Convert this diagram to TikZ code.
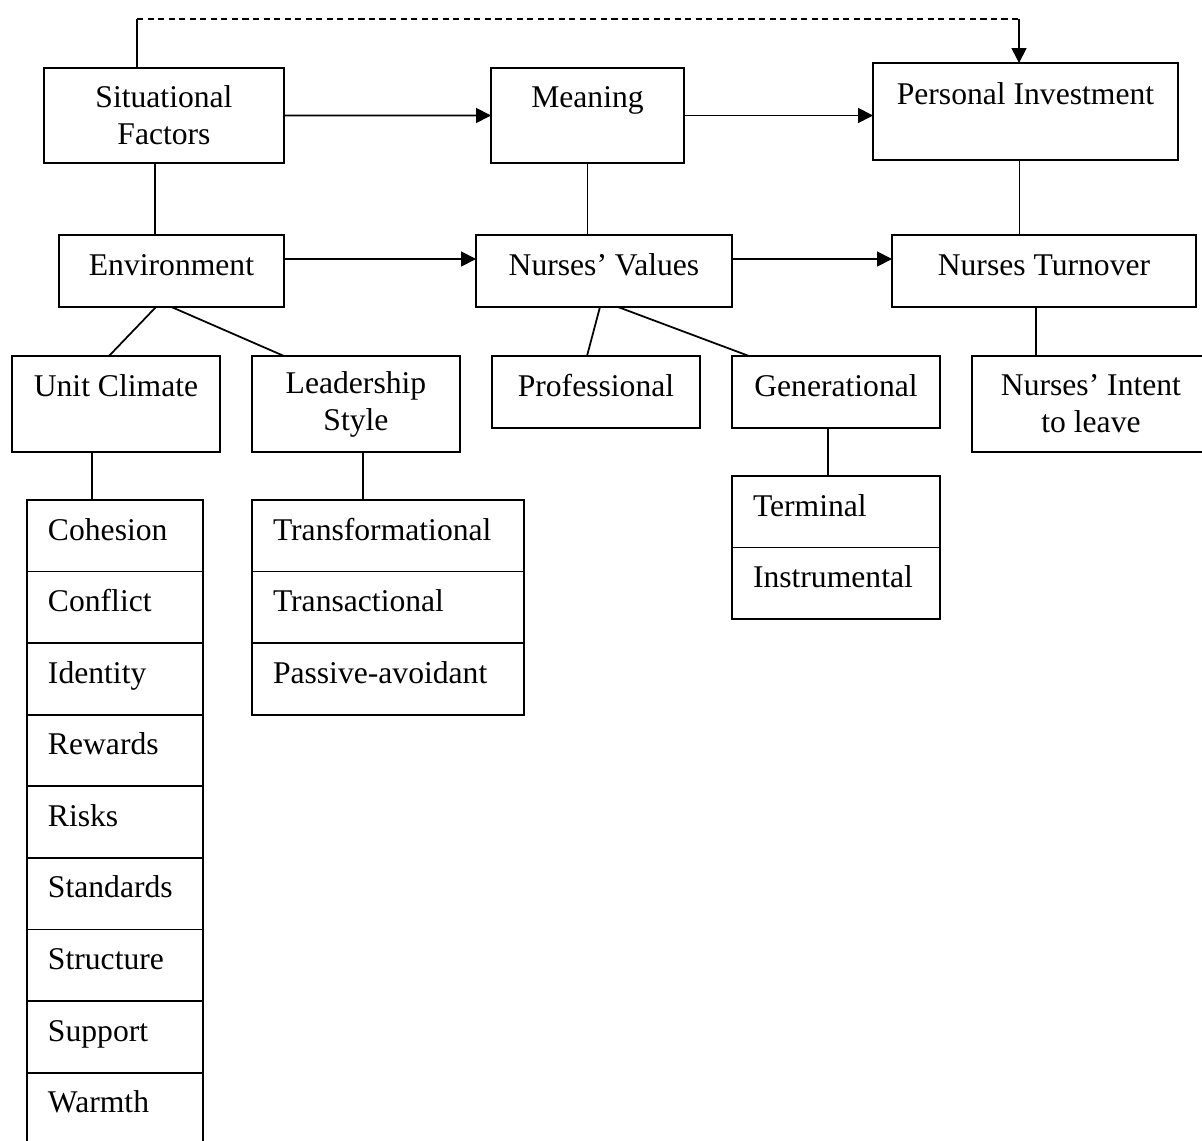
\documentclass[tikz,border=0pt]{standalone}
\usepackage{fontspec}
\setmainfont{Liberation Serif}
\usepackage{tikz}
\usetikzlibrary{arrows.meta,positioning}

\begin{document}
\begin{tikzpicture}[
    x=0.02cm, y=-0.02cm,
    every node/.style={font=\fontsize{18}{21}\selectfont},
    box/.style={draw, line width=1pt, outer sep=0pt, inner sep=0pt, anchor=north west},
    onebox/.style={box, text height=0.8cm, text depth=#1},
    twobox/.style={box, align=center, minimum height=#1},
    item/.style={draw, line width=1pt, outer sep=0pt, inner xsep=0.42cm, inner ysep=0pt, align=left, text width=#1, text height=0.8cm, text depth=0.632cm},
    link/.style={line width=1pt},
    fb/.style={link, dash pattern=on 3.5pt off 2.5pt},
    arr/.style={line width=1pt, -{Triangle[length=8.5pt,width=8.5pt]}}
  ]
  \useasboundingbox (0,0) rectangle (1202,1140);
  \clip (0,0) rectangle (1202,1140);

  % Row 1
  \node[twobox=1.9cm, minimum width=4.8cm] (sit) at (44,68) {Situational\\Factors};
  \node[onebox=1.1cm, minimum width=3.86cm] (mean) at (491,68) {Meaning};
  \node[onebox=1.1cm, text height=0.84cm, minimum width=6.1cm] (pers) at (873,63) {Personal Investment};

  % Row 2
  \node[onebox=0.64cm, minimum width=4.5cm] (env) at (59,235) {Environment};
  \node[onebox=0.64cm, minimum width=5.12cm] (val) at (476,235) {Nurses’ Values};
  \node[onebox=0.64cm, minimum width=6.08cm] (turn) at (892,235) {Nurses Turnover};

  % Row 3
  \node[onebox=1.12cm, minimum width=4.16cm] (unit) at (12,356) {Unit Climate};
  \node[twobox=1.92cm, minimum width=4.16cm] (lead) at (252,356) {Leadership\\Style};
  \node[onebox=0.64cm, minimum width=4.16cm] (prof) at (492,356) {Professional};
  \node[onebox=0.64cm, minimum width=4.16cm] (gen) at (732,356) {Generational};
  \node[twobox=1.92cm, minimum width=4.76cm] (intent) at (972,356) {Nurses’ Intent\\to leave};

  % Unit climate dimensions
  \node[item=2.68cm, anchor=north west] (coh) at (27,500) {Cohesion};
  \node[item=2.68cm, below=0pt of coh] (conf) {Conflict};
  \node[item=2.68cm, below=0pt of conf] (iden) {Identity};
  \node[item=2.68cm, below=0pt of iden] (rew) {Rewards};
  \node[item=2.68cm, below=0pt of rew] (risk) {Risks};
  \node[item=2.68cm, below=0pt of risk] (stand) {Standards};
  \node[item=2.68cm, below=0pt of stand] (struc) {Structure};
  \node[item=2.68cm, below=0pt of struc] (supp) {Support};
  \node[item=2.68cm, below=0pt of supp] (warm) {Warmth};

  % Leadership styles
  \node[item=4.6cm, anchor=north west] (trf) at (252,500) {Transformational};
  \node[item=4.6cm, below=0pt of trf] (trs) {Transactional};
  \node[item=4.6cm, below=0pt of trs] (pas) {Passive-avoidant};

  % Generational values
  \node[item=3.32cm, anchor=north west] (term) at (732,476) {Terminal};
  \node[item=3.32cm, below=0pt of term] (instr) {Instrumental};

  % Main flow
  \draw[arr] (sit) -- (mean);
  \draw[arr] (mean.east) -- (mean.east -| pers.west);
  \draw[arr] ([yshift=0.24cm]env.east) -- ([yshift=0.24cm]env.east -| val.west);
  \draw[arr] ([yshift=0.24cm]val.east) -- ([yshift=0.24cm]val.east -| turn.west);

  % Feedback path
  \coordinate (fbL) at (137,19);
  \coordinate (fbR) at (1019,19);
  \draw[link] (fbL |- sit.north) -- (fbL);
  \draw[fb] (fbL) -- (fbR);
  \draw[arr] (fbR) -- (fbR |- pers.north);

  % Vertical links
  \draw[link] ([xshift=-0.18cm]sit.south) -- ([xshift=-0.18cm]sit.south |- env.north);
  \draw[link] (mean.south) -- (mean.south |- val.north);
  \draw[link] ([xshift=-0.12cm]pers.south) -- ([xshift=-0.12cm]pers.south |- turn.north);

  % Branches
  \draw[link] ([xshift=-0.31cm]env.south) -- ([xshift=-0.14cm]unit.north);
  \draw[link] (env.south) -- ([xshift=0.64cm]lead.north west);
  \draw[link] ([xshift=-0.08cm]val.south) -- ([xshift=-0.18cm]prof.north);
  \draw[link] ([xshift=0.28cm]val.south) -- ([xshift=0.34cm]gen.north west);
  \draw[link] ([xshift=-0.16cm]turn.south) -- ([xshift=-0.16cm]turn.south |- intent.north);
  \draw[link] ([xshift=-0.48cm]unit.south) -- ([xshift=-0.48cm]unit.south |- coh.north);
  \draw[link] ([xshift=0.14cm]lead.south) -- ([xshift=0.14cm]lead.south |- trf.north);
  \draw[link] ([xshift=-0.16cm]gen.south) -- ([xshift=-0.16cm]gen.south |- term.north);
\end{tikzpicture}
\end{document}
